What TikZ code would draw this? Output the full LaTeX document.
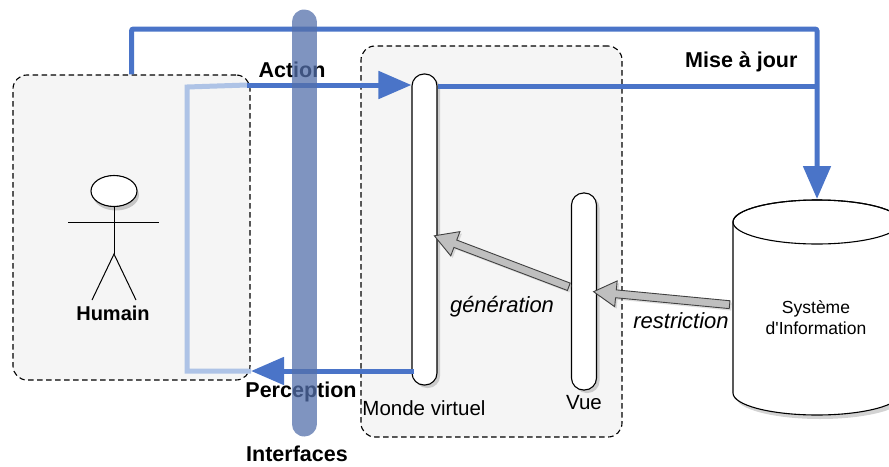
\documentclass[tikz,border=0pt]{standalone}
\usepackage{fontspec}
\setmainfont{Liberation Sans}
\usetikzlibrary{arrows.meta,shapes.geometric,shapes.arrows,shadows,calc,positioning}

\definecolor{bleu}{RGB}{74,116,200}
\definecolor{bleuclair}{RGB}{174,195,230}
\definecolor{barre}{RGB}{84,112,171}
\definecolor{fond}{RGB}{245,245,245}

\begin{document}
\begin{tikzpicture}[x=1pt, y=-1pt,
        zone/.style={draw, dash pattern=on 5.5pt off 3.5pt, line width=1.1pt,
          rounded corners=14pt, fill=fond},
        pilule/.style={draw, line width=1.1pt, fill=white, rounded corners=12pt,
          minimum width=25pt, drop shadow={opacity=0.35, shadow xshift=3pt, shadow yshift=-3pt}},
        fleche/.style={draw=bleu, line width=5pt, rounded corners=2pt,
          -{Triangle[length=33pt,width=27pt]}},
        ligne/.style={draw=bleu, line width=5pt, rounded corners=2pt},
        creux/.style={single arrow, draw=black!75, fill=black!25, line width=0.9pt,
          inner sep=3.5pt, single arrow head extend=9pt, single arrow tip angle=60,
          drop shadow={opacity=0.25, shadow xshift=2pt, shadow yshift=-2pt}},
        gras/.style={font=\fontsize{21.5}{24}\selectfont\bfseries},
        ital/.style={font=\fontsize{22}{24}\selectfont\itshape},
        texte/.style={font=\fontsize{20.5}{22}\selectfont}
        ]
        \useasboundingbox (0,0) rectangle (889,466);
        \node[zone, minimum width=237pt, minimum height=305pt] (humainbox) at (131.5,227.5) {};
        \node[zone, minimum width=261pt, minimum height=391pt] (mondebox) at (491.5,241.5) {};

        % acteur
        \node[ellipse, draw, line width=1.1pt, fill=white, minimum width=46pt, minimum height=31pt,
          drop shadow={opacity=0.4, shadow xshift=2pt, shadow yshift=-4pt}] (tete) at (114,191) {};
        \draw[line width=1pt] (tete.south) -- ++(0,47) coordinate (hanche);
        \draw[line width=1pt] (68,222) -- (159,222);
        \draw[line width=1pt] (92,300) -- (hanche) -- (136,300);
        \node[font=\fontsize{20}{22}\selectfont\bfseries] (humain) at (113,313) {Humain};

        \node[pilule, minimum height=311pt] (mv) at (424.5,229.5) {};
        \node[pilule, minimum height=197pt] (vue) at (584,291.5) {};
        \node[texte] (mvlabel) at (424,408) {Monde virtuel};
        \node[texte] (vuelabel) at (584,403) {Vue};

        % systeme d'information
        \coordinate (cyl) at (817,222);
        \filldraw[fill=white, line width=1.1pt, drop shadow={opacity=0.35, shadow xshift=3pt, shadow yshift=-4pt}]
          (733,222) -- (733,393) arc[start angle=180, end angle=0, x radius=84, y radius=22]
          -- (901,222) arc[start angle=0, end angle=-180, x radius=84, y radius=22] -- cycle;
        \draw[line width=1.1pt] (cyl) ellipse[x radius=84, y radius=22];
        \node[font=\fontsize{17.5}{21}\selectfont, align=center] (si) at (816,318) {Système\\d\textquotesingle Information};

        % fleches creuses
        \coordinate (genA) at (572,288);
        \coordinate (genB) at ($(mv.east)+(0,7.5)$);
        \coordinate (resA) at (733,305);
        \coordinate (resB) at (597,292);
        \path let \p1=($(genA)-(genB)$), \n1={veclen(\x1,\y1)} in
          (genA) -- (genB) node[creux, midway, sloped, allow upside down, minimum height=\n1] {};
        \path let \p1=($(resA)-(resB)$), \n1={veclen(\x1,\y1)} in
          (resA) -- (resB) node[creux, midway, sloped, allow upside down, minimum height=\n1] {};
        \node[ital] (gen) at (502,307) {génération};
        \node[ital] (res) at (681,321) {restriction};

        % boucle action / perception
        \coordinate (act) at (247,85);
        \coordinate (perc) at (251,371);
        \draw[draw=bleuclair, line width=5pt] (act) -- (187,87) -- (187,371) -- (perc);
        \draw[fleche] (act) -- (mv.west |- act);
        \draw[fleche] ([xshift=3pt]mv.west |- perc) -- (perc);
        \node[gras] (action) at (292,70) {Action};
        \node[gras] (perception) at (301,392) {Perception};

        % mise a jour
        \coordinate (haut) at (817,29);
        \coordinate (sitop) at (817,199);
        \coordinate (maj) at (817,86);
        \draw[fleche] (humainbox.north) |- (haut) -- (sitop);
        \draw[ligne] (mv.east |- maj) -- (maj);
        \node[gras, anchor=east] (majlabel) at (801,62) {Mise à jour};

        % interfaces
        \draw[draw=barre, draw opacity=0.75, line width=25pt, line cap=round] (304,22) -- (304,424);
        \node[gras, inner sep=1pt] (interfaces) at (297,454) {Interfaces};
      \end{tikzpicture}
\end{document}
